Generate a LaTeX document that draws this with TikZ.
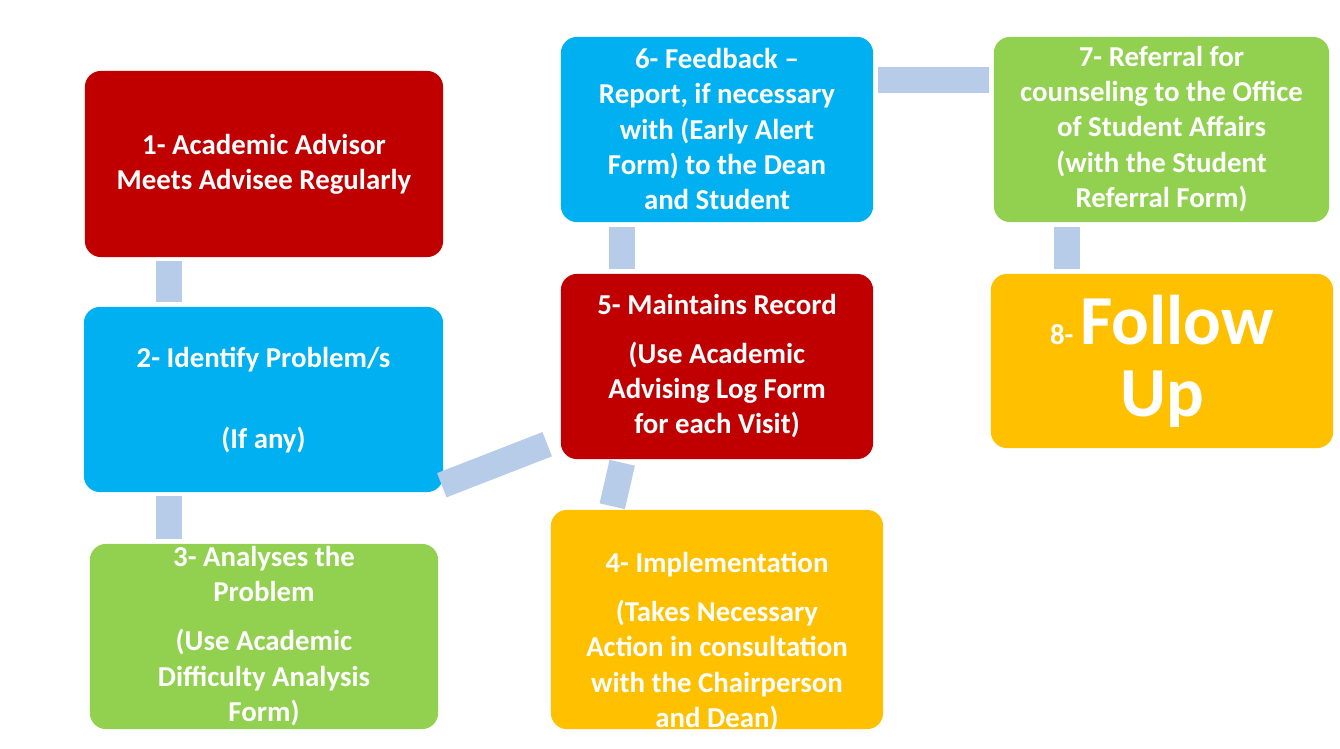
\documentclass[tikz,border=0pt]{standalone}
\usepackage{fontspec}
\setmainfont{Carlito}
\begin{document}
\begin{tikzpicture}[x=0.01cm,y=-0.01cm,
  box/.style={rounded corners=0.16cm,draw=none,minimum width=#1},
  txt/.style={text=white,font=\fontsize{8.2pt}{10pt}\selectfont\bfseries,align=center,inner sep=0},
  bar/.style={draw={rgb,255:red,183;green,204;blue,232},line width=0.26cm}]
\definecolor{cred}{HTML}{C00000}
\definecolor{cblue}{HTML}{00B0F0}
\definecolor{cgreen}{HTML}{92D050}
\definecolor{cyel}{HTML}{FFC000}
\useasboundingbox (0,0) rectangle (1340,749);
\fill[white] (0,0) rectangle (1340,749);
\begin{scope}
\clip (0,0) rectangle (1340,749);
\node[box=3.58cm,minimum height=1.86cm,fill=cred] (b1) at (264,164) {};
\node[box=3.59cm,minimum height=1.85cm,fill=cblue] (b2) at (263.5,399.5) {};
\node[box=3.48cm,minimum height=1.85cm,fill=cgreen] (b3) at (264,636.5) {};
\node[box=3.32cm,minimum height=2.19cm,fill=cyel] (b4) at (717,619.5) {};
\node[box=3.12cm,minimum height=1.85cm,fill=cred] (b5) at (717,366.5) {};
\node[box=3.12cm,minimum height=1.85cm,fill=cblue] (b6) at (717,129.5) {};
\node[box=3.35cm,minimum height=1.85cm,fill=cgreen] (b7) at (1161.5,129.5) {};
\node[box=3.42cm,minimum height=1.74cm,fill=cyel] (b8) at (1162,361) {};

\node[txt] (t1) at (264,164) {1- Academic Advisor\\Meets Advisee Regularly};
\node[txt] (t2) at (263.5,400) {2- Identify Problem/s\\[13pt](If any)};
\node[txt] (t3) at (264,636) {3- Analyses the\\Problem\\[4pt](Use Academic\\Difficulty Analysis\\Form)};
\node[txt] (t4) at (717,642) {4- Implementation\\[4pt](Takes Necessary\\Action in consultation\\with the Chairperson\\and Dean)};
\node[txt] (t5) at (717,366) {5- Maintains Record\\[4pt](Use Academic\\Advising Log Form\\for each Visit)};
\node[txt] (t6) at (717,129) {6- Feedback --\\Report, if necessary\\with (Early Alert\\Form) to the Dean\\and Student};
\node[txt] (t7) at (1161.5,129) {7- Referral for\\counseling to the Office\\of Student Affairs\\(with the Student\\Referral Form)};
\node[txt,font=\fontsize{20pt}{20.5pt}\selectfont\bfseries] (t8) at (1162,361) {{\fontsize{8.2pt}{10pt}\selectfont 8- }Follow\\Up};
\end{scope}

\draw[bar] ([xshift=0.85cm,yshift=-0.03cm]b1.south west) -- ([xshift=0.86cm,yshift=0.04cm]b2.north west);
\draw[bar] ([xshift=0.86cm,yshift=-0.03cm]b2.south west) -- ([xshift=0.80cm,yshift=0.04cm]b3.north west);
\draw[bar] ([xshift=0.03cm,yshift=0.58cm]b3.north east) -- ([xshift=-0.03cm,yshift=0.65cm]b4.north west);
\draw[bar] ([xshift=0.62cm,yshift=0.03cm]b4.north west) -- ([xshift=0.62cm,yshift=-0.03cm]b5.south west);
\draw[bar] ([xshift=0.62cm,yshift=0.04cm]b5.north west) -- ([xshift=0.62cm,yshift=-0.04cm]b6.south west);
\draw[bar] ([xshift=0.04cm,yshift=-0.44cm]b6.north east) -- ([xshift=-0.04cm,yshift=-0.44cm]b7.north west);
\draw[bar] ([xshift=0.74cm,yshift=-0.04cm]b7.south west) -- ([xshift=0.77cm,yshift=0.04cm]b8.north west);
\end{tikzpicture}
\end{document}
